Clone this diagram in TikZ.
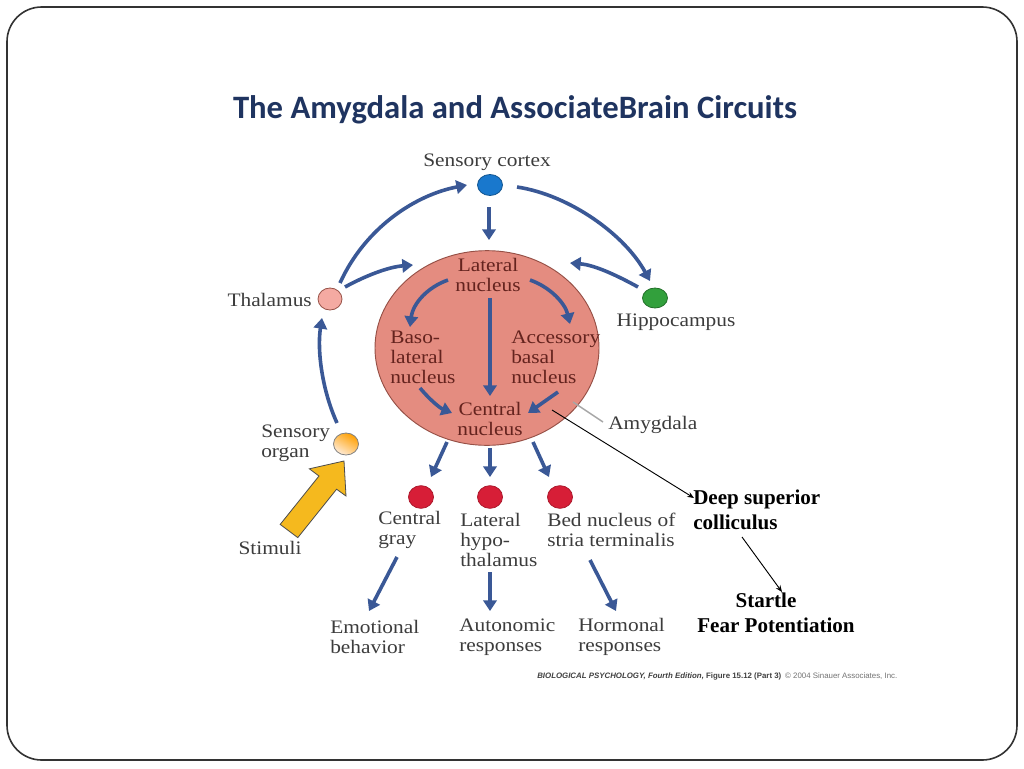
\documentclass[tikz,border=0pt]{standalone}
\usepackage{fontspec}
\setmainfont{Liberation Serif}
\newfontfamily\palf[FakeStretch=1.12]{Liberation Serif}
\newfontfamily\titlef{Carlito}
\newfontfamily\capf{Liberation Sans}
\usetikzlibrary{arrows.meta,shapes.geometric}
\definecolor{arrowblue}{RGB}{58,88,150}
\definecolor{amyfill}{RGB}{228,140,128}
\definecolor{amyline}{RGB}{150,80,70}
\definecolor{intext}{RGB}{100,35,30}
\definecolor{labgray}{RGB}{60,60,60}
\definecolor{titleblue}{RGB}{31,52,96}
\definecolor{scblue}{RGB}{25,120,205}
\definecolor{hipgreen}{RGB}{50,160,60}
\definecolor{reddot}{RGB}{215,30,55}
\definecolor{thalpink}{RGB}{244,170,162}
\definecolor{stimyellow}{RGB}{245,185,30}
\begin{document}
\begin{tikzpicture}[x=0.75pt,y=-0.75pt,
  blarrow/.style={draw=arrowblue, line width=2.7pt, -{Triangle[width=10pt,length=8pt]}},
  lab/.style={font=\palf\fontsize{14.3}{15}\selectfont, text=labgray, inner sep=0pt, align=left},
  inlab/.style={font=\palf\fontsize{14.3}{15}\selectfont, text=intext, inner sep=0pt, align=left},
  boldlab/.style={font=\fontsize{15.8}{18.75}\selectfont\bfseries, text=black, inner sep=0pt, align=left},
  dot/.style={ellipse, inner sep=0pt, minimum width=18.75pt, minimum height=16.5pt, line width=0.6pt},
  thinarrow/.style={draw=black, line width=0.7pt, -{Stealth[width=4pt,length=5pt]}}
]
\useasboundingbox (0,0) rectangle (1024,768);
\fill[white] (0,0) rectangle (1024,768);
\draw[line width=1.2pt, draw=black!80, rounded corners=26pt] (7,7) rectangle (1017,760);

% title
\node[font=\titlef\fontsize{24.5}{28}\selectfont\bfseries, text=titleblue, inner sep=0pt] (title) at (515,110) {The Amygdala and AssociateBrain Circuits};

% amygdala
\node[ellipse, minimum width=168pt, minimum height=146pt, fill=amyfill, draw=amyline, line width=0.7pt] (amy) at (487,348) {};

% dots
\node[dot, fill=scblue, draw=scblue!70!black, minimum height=15.75pt] (sc) at (490,185) {};
\node[dot, fill=thalpink, draw=amyline, minimum width=18pt] (thal) at (330,299) {};
\node[dot, fill=hipgreen, draw=hipgreen!70!black, minimum height=15pt] (hip) at (655,298) {};
\node[dot, left color=orange!75!yellow, right color=white!85!orange, shading angle=-30, draw=black!50] (sorg) at (346,444) {};
\node[dot, fill=reddot, draw=reddot!80!black, minimum height=17pt] (cg) at (421,497) {};
\node[dot, fill=reddot, draw=reddot!80!black, minimum height=17pt] (lh) at (490,497) {};
\node[dot, fill=reddot, draw=reddot!80!black, minimum height=17pt] (bn) at (560,497) {};

% labels
\node[lab] (scl) at (487,162) {Sensory cortex};
\node[lab, anchor=east] (thall) at (312,300) {Thalamus};
\node[lab] (hipl) at (676,322) {Hippocampus};
\node[lab, anchor=west] (sorgl) at (261,443) {Sensory\\organ};
\node[lab] (stiml) at (270,548) {Stimuli};
\node[inlab, align=center] (latn) at (488,275) {Lateral\\nucleus};
\node[inlab, anchor=west] (baso) at (390,357) {Baso-\\lateral\\nucleus};
\node[inlab, anchor=west] (acc) at (511,357) {Accessory\\basal\\nucleus};
\node[inlab, align=center] (cen) at (490,419) {Central\\nucleus};
\node[lab, anchor=west] (amyl) at (608,425) {Amygdala};
\node[lab, anchor=west] (cgl) at (378,530) {Central\\gray};
\node[lab, anchor=west] (lhl) at (460,540) {Lateral\\hypo-\\thalamus};
\node[lab, anchor=west] (bnl) at (547,530) {Bed nucleus of\\stria terminalis};
\node[lab, anchor=west] (emo) at (330,637) {Emotional\\behavior};
\node[lab, anchor=west] (aut) at (459,637) {Autonomic\\responses};
\node[lab, anchor=west] (hor) at (578,637) {Hormonal\\responses};
\node[boldlab, anchor=west] (dsc) at (693,510) {Deep superior\\colliculus};
\node[boldlab] (startle) at (766,600) {Startle};
\node[boldlab] (fear) at (776,625) {Fear Potentiation};
\node[font=\capf\fontsize{5.9}{7}\selectfont, text=black!75, inner sep=0pt, anchor=west] (cap) at (537,676)
  {\textbf{\textit{BIOLOGICAL PSYCHOLOGY, Fourth Edition,}} \textbf{Figure 15.12 (Part 3)}\enspace{\color{black!55}\textcopyright{} 2004 Sinauer Associates, Inc.}};

% stimulus arrow
\draw[fill=stimyellow, draw=black!70, line width=0.6pt]
  (344,461) -- (346,496) -- (336.6,489.2) -- (297.8,537.6) -- (280.2,524.4) -- (319,476) -- (309.4,468.8) -- cycle;

% connector coordinates
\coordinate (a1s) at (340,283); \coordinate (a1e) at (467,185);
\coordinate (a2s) at (517,187); \coordinate (a2e) at (650,281);
\coordinate (a3s) at (345,287); \coordinate (a3e) at (413,265);
\coordinate (a4s) at (638,287); \coordinate (a4e) at (570,263);
\coordinate (a5s) at (489,207); \coordinate (a5e) at (489,240);
\coordinate (a6s) at (337,423); \coordinate (a6e) at (322,318);
\coordinate (b1s) at (448,280); \coordinate (b1e) at (410,327);
\coordinate (b2s) at (530,280); \coordinate (b2e) at (570,324);
\coordinate (b3s) at (490,298); \coordinate (b3e) at (490,396);
\coordinate (b4s) at (420,388); \coordinate (b4e) at (452,413);
\coordinate (b5s) at (558,392); \coordinate (b5e) at (528,413);
\coordinate (c1s) at (447,442); \coordinate (c1e) at (431,477);
\coordinate (c2s) at (490,448); \coordinate (c2e) at (490,477);
\coordinate (c3s) at (533,442); \coordinate (c3e) at (549,477);
\coordinate (d1s) at (397,557); \coordinate (d1e) at (369,611);
\coordinate (d2s) at (490,572); \coordinate (d2e) at (490,611);
\coordinate (d3s) at (590,560); \coordinate (d3e) at (616,611);
\coordinate (g1s) at (573,402); \coordinate (g1e) at (603,422);
\coordinate (k1s) at (552,410); \coordinate (k1e) at (694,498);
\coordinate (k2s) at (742,537); \coordinate (k2e) at (782,592);

% blue arrows
\draw[blarrow] (a1s) .. controls (365,228) and (415,195) .. (a1e);
\draw[blarrow] (a2s) .. controls (570,195) and (625,235) .. (a2e);
\draw[blarrow] (a3s) .. controls (365,276) and (388,267) .. (a3e);
\draw[blarrow] (a4s) .. controls (618,276) and (595,265) .. (a4e);
\draw[blarrow] (a5s) -- (a5e);
\draw[blarrow] (a6s) .. controls (322,390) and (317,350) .. (a6e);
\draw[blarrow] (b1s) .. controls (428,287) and (413,303) .. (b1e);
\draw[blarrow] (b2s) .. controls (550,287) and (565,303) .. (b2e);
\draw[blarrow] (b3s) -- (b3e);
\draw[blarrow] (b4s) .. controls (430,400) and (440,408) .. (b4e);
\draw[blarrow] (b5s) -- (b5e);
\draw[blarrow] (c1s) -- (c1e);
\draw[blarrow] (c2s) -- (c2e);
\draw[blarrow] (c3s) -- (c3e);
\draw[blarrow] (d1s) -- (d1e);
\draw[blarrow] (d2s) -- (d2e);
\draw[blarrow] (d3s) -- (d3e);

% leader lines
\draw[draw=black!35, line width=1.1pt] (g1s) -- (g1e);
\draw[thinarrow] (k1s) -- (k1e);
\draw[thinarrow] (k2s) -- (k2e);
\end{tikzpicture}
\end{document}
